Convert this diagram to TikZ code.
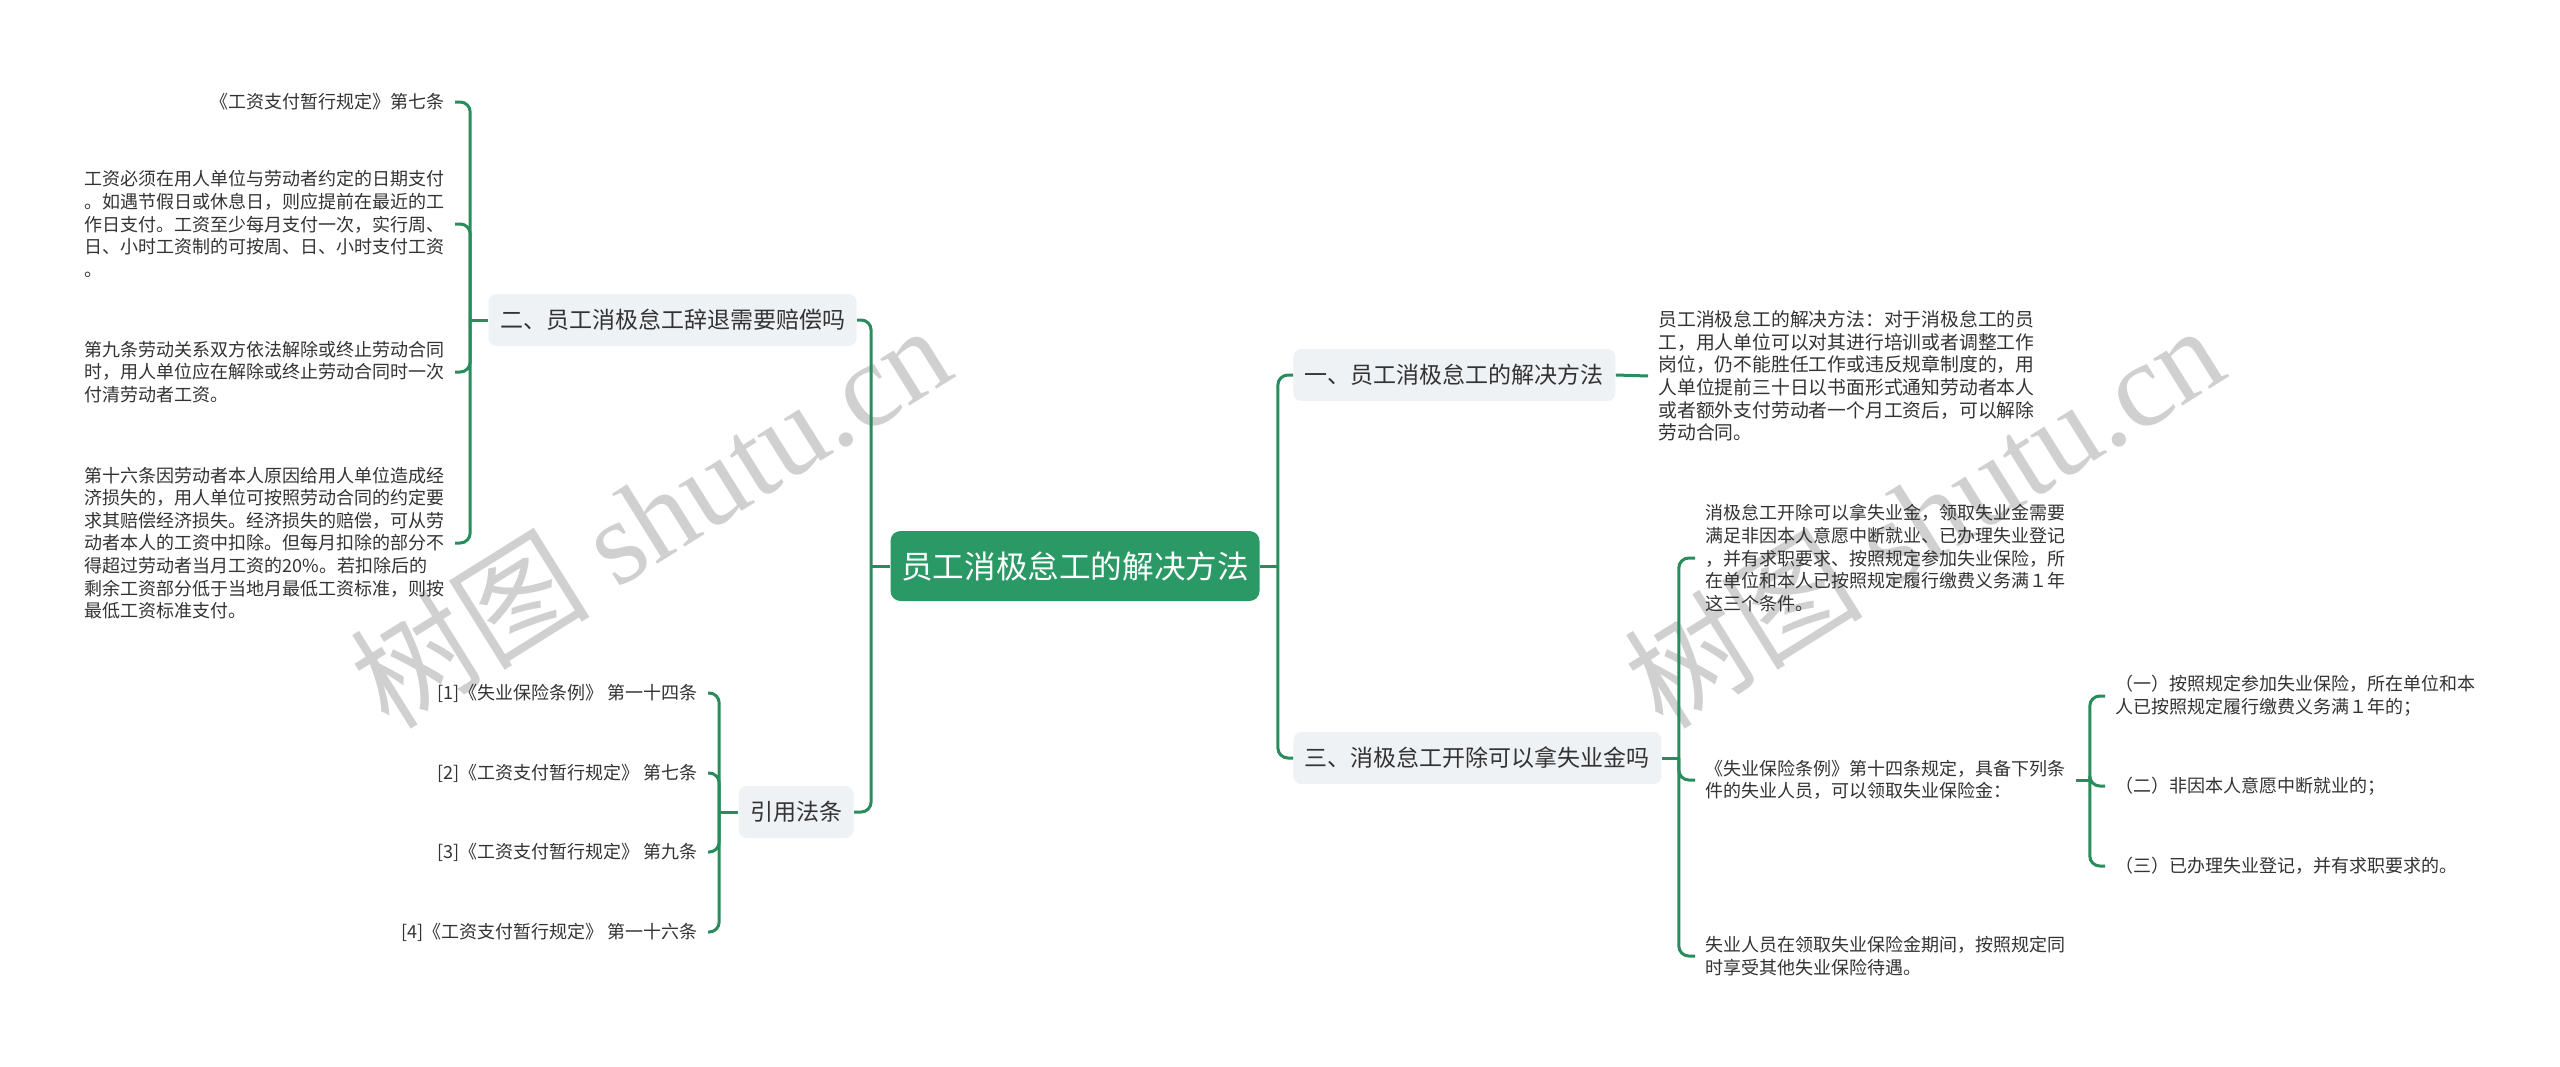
\documentclass[tikz,border=0pt]{standalone}
\usepackage{fontspec}
\setmainfont{Noto Sans CJK SC}
\newfontfamily\wmserif{Liberation Serif}
\usetikzlibrary{calc}
\definecolor{lineg}{RGB}{40,140,92}
\definecolor{rootg}{RGB}{42,153,101}
\definecolor{nodebg}{RGB}{239,242,245}
\definecolor{txt}{RGB}{51,51,51}
\definecolor{wm}{RGB}{208,208,208}
\begin{document}
\begin{tikzpicture}[x=0.5pt,y=-0.5pt,
  conn/.style={draw=lineg, line width=1.5pt, rounded corners=5pt},
  topic/.style={fill=nodebg, rounded corners=4pt, inner xsep=5.75pt, inner ysep=0pt, minimum height=26pt, text=txt, font=\fontsize{11.5pt}{13pt}\selectfont},
  leaf/.style={inner xsep=5pt, inner ysep=0pt, text=txt, align=left, font=\fontsize{9pt}{11.3pt}\selectfont},
  rootbox/.style={fill=rootg, rounded corners=5pt, text=white, inner xsep=0pt, inner ysep=0pt, minimum width=184.5pt, minimum height=35pt, font=\fontsize{15.8pt}{19pt}\selectfont},
  wmark/.style={text=wm, rotate=32, inner sep=0pt, font=\fontsize{60pt}{64pt}\selectfont}
]
\fill[white] (0,0) rectangle (2560,1066);
\useasboundingbox (0,0) rectangle (2560,1066);

% watermarks
\node[wmark] (wm1) at (650,515) {树图 {\wmserif shutu.cn}};
\node[wmark] (wm2) at (1923,515) {树图 {\wmserif shutu.cn}};

% root and main topics
\node[rootbox] (root) at (1075,566) {员工消极怠工的解决方法};
\node[topic, anchor=east] (n2) at (857,320) {二、员工消极怠工辞退需要赔偿吗};
\node[topic, anchor=east] (n4) at (854,812) {引用法条};
\node[topic, anchor=west] (n1) at (1293,375) {一、员工消极怠工的解决方法};
\node[topic, anchor=west] (n3) at (1293,758) {三、消极怠工开除可以拿失业金吗};

% children of n2
\node[leaf, anchor=east] (c21) at (455,102) {《工资支付暂行规定》第七条};
\node[leaf, anchor=east] (c22) at (455,224) {工资必须在用人单位与劳动者约定的日期支付\\。如遇节假日或休息日，则应提前在最近的工\\作日支付。工资至少每月支付一次，实行周、\\日、小时工资制的可按周、日、小时支付工资\\。};
\node[leaf, anchor=east] (c23) at (455,372) {第九条劳动关系双方依法解除或终止劳动合同\\时，用人单位应在解除或终止劳动合同时一次\\付清劳动者工资。};
\node[leaf, anchor=east] (c24) at (455,543) {第十六条因劳动者本人原因给用人单位造成经\\济损失的，用人单位可按照劳动合同的约定要\\求其赔偿经济损失。经济损失的赔偿，可从劳\\动者本人的工资中扣除。但每月扣除的部分不\\得超过劳动者当月工资的20\%。若扣除后的\\剩余工资部分低于当地月最低工资标准，则按\\最低工资标准支付。};

% children of n4
\node[leaf, anchor=east] (c41) at (708,693) {[1]《失业保险条例》 第一十四条};
\node[leaf, anchor=east] (c42) at (708,773) {[2]《工资支付暂行规定》 第七条};
\node[leaf, anchor=east] (c43) at (708,852) {[3]《工资支付暂行规定》 第九条};
\node[leaf, anchor=east] (c44) at (708,932) {[4]《工资支付暂行规定》 第一十六条};

% child of n1
\node[leaf, anchor=west, font=\fontsize{9.4pt}{11.3pt}\selectfont] (p1) at (1648,376) {员工消极怠工的解决方法：对于消极怠工的员\\工，用人单位可以对其进行培训或者调整工作\\岗位，仍不能胜任工作或违反规章制度的，用\\人单位提前三十日以书面形式通知劳动者本人\\或者额外支付劳动者一个月工资后，可以解除\\劳动合同。};

% children of n3
\node[leaf, anchor=west] (pA) at (1695,558) {消极怠工开除可以拿失业金，领取失业金需要\\满足非因本人意愿中断就业、已办理失业登记\\，并有求职要求、按照规定参加失业保险，所\\在单位和本人已按照规定履行缴费义务满１年\\这三个条件。};
\node[leaf, anchor=west] (pB) at (1695,780) {《失业保险条例》第十四条规定，具备下列条\\件的失业人员，可以领取失业保险金：};
\node[leaf, anchor=west] (pC) at (1695,956) {失业人员在领取失业保险金期间，按照规定同\\时享受其他失业保险待遇。};

% children of pB
\node[leaf, anchor=west] (s1) at (2105,696) {（一）按照规定参加失业保险，所在单位和本\\人已按照规定履行缴费义务满１年的；};
\node[leaf, anchor=west] (s2) at (2105,786) {（二）非因本人意愿中断就业的；};
\node[leaf, anchor=west] (s3) at (2105,866) {（三）已办理失业登记，并有求职要求的。};

% connectors
\coordinate (tL) at ($(root.west)+(-19,0)$);
\draw[conn] (root.west) -- (tL);
\draw[conn] (tL) |- (n2.east);
\draw[conn] (tL) |- (n4.east);

\coordinate (tR) at ($(root.east)+(18,0)$);
\draw[conn] (root.east) -- (tR);
\draw[conn] (tR) |- (n1.west);
\draw[conn] (tR) |- (n3.west);

\coordinate (t2) at ($(n2.west)+(-18,0)$);
\draw[conn] (n2.west) -- (t2);
\foreach \c in {c21,c22,c23,c24} \draw[conn] (t2) |- (\c.east);

\coordinate (t4) at ($(n4.west)+(-19,0)$);
\draw[conn] (n4.west) -- (t4);
\foreach \c in {c41,c42,c43,c44} \draw[conn] (t4) |- (\c.east);

\draw[conn] (n1.east) -- (p1.west);

\coordinate (t3) at ($(n3.east)+(17,0)$);
\draw[conn] (n3.east) -- (t3);
\foreach \c in {pA,pB,pC} \draw[conn] (t3) |- (\c.west);

\coordinate (tB) at ($(pB.east)+(14,0)$);
\draw[conn] (pB.east) -- (tB);
\foreach \c in {s1,s2,s3} \draw[conn] (tB) |- (\c.west);
\end{tikzpicture}
\end{document}
